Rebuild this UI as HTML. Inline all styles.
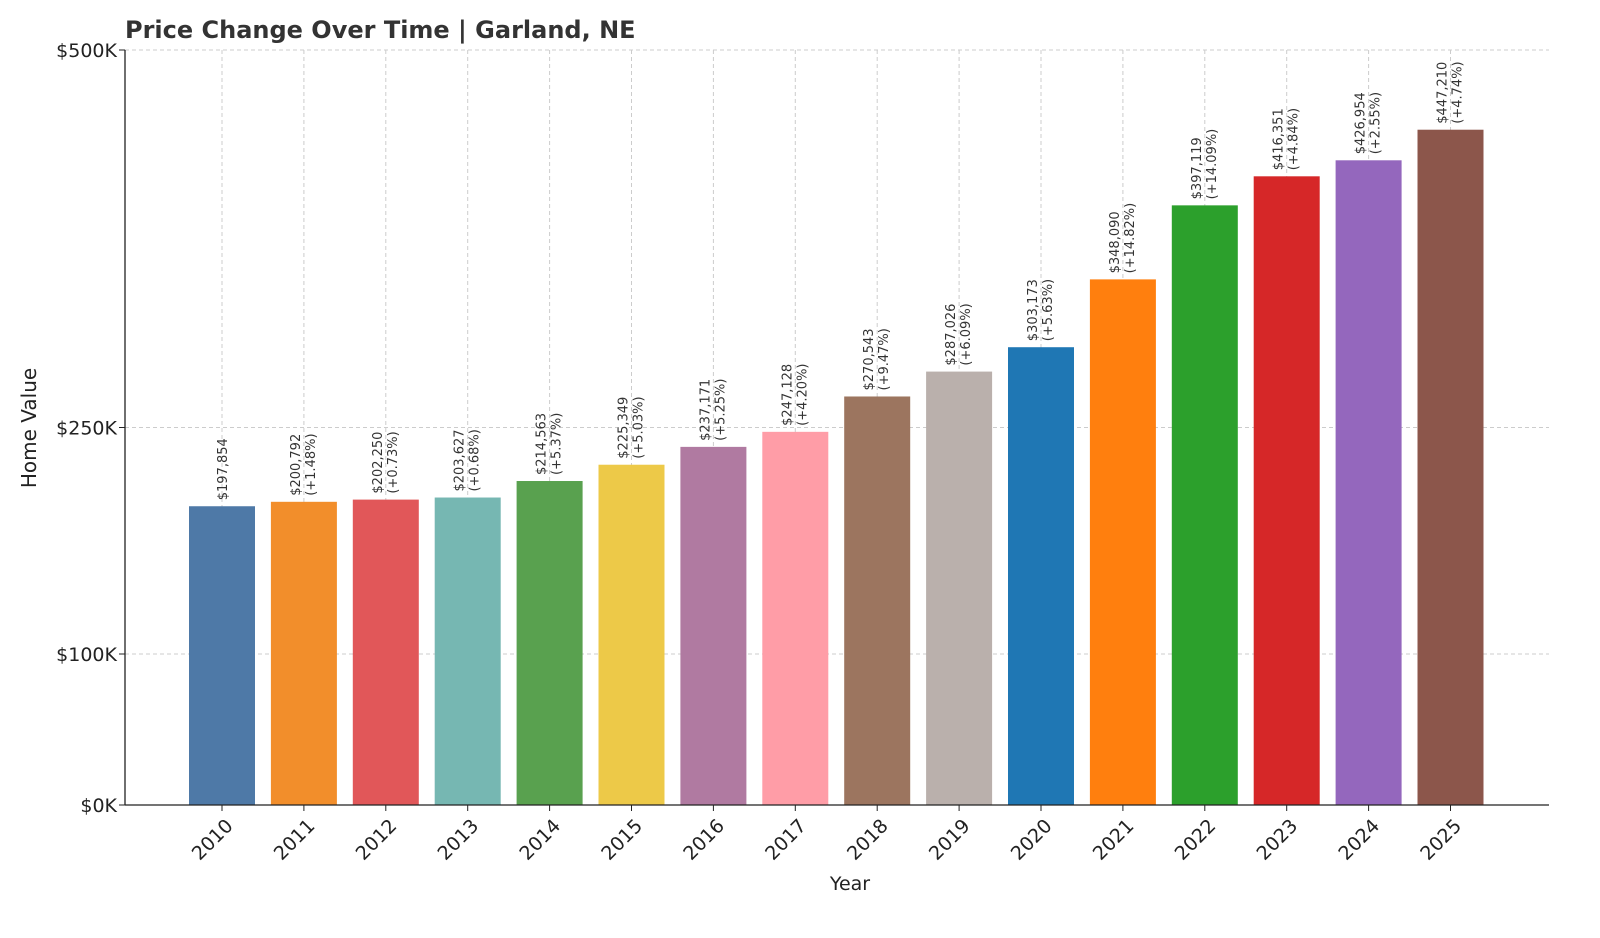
<!DOCTYPE html>
<html><head><meta charset="utf-8"><style>
body{margin:0;background:#fff;font-family:"Liberation Sans","DejaVu Sans",sans-serif;}
</style></head><body>
<svg width="1600" height="933" xmlns="http://www.w3.org/2000/svg" font-family="DejaVu Sans, Liberation Sans, sans-serif">
<text x="125" y="38" font-size="24" font-weight="bold" fill="#333">Price Change Over Time | Garland, NE</text>
<g id="grid"></g><g id="bars"></g><g id="labels"></g><g id="axes"></g>
<text x="850" y="890" font-size="19" text-anchor="middle" fill="#222">Year</text>
<text transform="translate(36,428) rotate(-90)" font-size="20" text-anchor="middle" fill="#222">Home Value</text>
</svg>
<script>
const years=["2010","2011","2012","2013","2014","2015","2016","2017","2018","2019","2020","2021","2022","2023","2024","2025"];
const values=[197854,200792,202250,203627,214563,225349,237171,247128,270543,287026,303173,348090,397119,416351,426954,447210];
const pcts=["","+1.48%","+0.73%","+0.68%","+5.37%","+5.03%","+5.25%","+4.20%","+9.47%","+6.09%","+5.63%","+14.82%","+14.09%","+4.84%","+2.55%","+4.74%"];
const colors=["#4e79a7","#f28e2b","#e15759","#76b7b2","#59a14f","#edc948","#b07aa1","#ff9da7","#9c755f","#bab0ac","#1f77b4","#ff7f0e","#2ca02c","#d62728","#9467bd","#8c564b"];
const yTicks=[0,100000,250000,500000];
const yTickLabels=["$0K","$100K","$250K","$500K"];
const NS="http://www.w3.org/2000/svg";
const L=125,R=1549,T=50,B=805;
const y=v=>B-(v/500000)*(B-T);
const x=i=>222+i*81.9;
const bw=66;
function mk(tag,attrs,parent){const e=document.createElementNS(NS,tag);for(const k in attrs)e.setAttribute(k,attrs[k]);document.getElementById(parent).appendChild(e);return e;}
yTicks.forEach((t,i)=>{
 const g=mk('line',{x1:L,x2:R,y1:y(t),y2:y(t),stroke:"#ccc","stroke-dasharray":"4,3"},'grid');
 
 
 const tk=mk('line',{x1:L-6,x2:L,y1:y(t),y2:y(t),stroke:"#222"},'axes');
 
 
 const tl=mk('text',{x:L-8,y:y(t)+7,"font-size":19,"text-anchor":"end",fill:"#222"},'axes');
 tl.textContent=yTickLabels[i];
 
 
});
years.forEach((yr,i)=>{
 const cx=x(i);
 const g=mk('line',{x1:cx,x2:cx,y1:T,y2:B,stroke:"#ccc","stroke-dasharray":"4,3"},'grid');
 
 
 const r=mk('rect',{x:cx-bw/2,y:y(values[i]),width:bw,height:B-y(values[i]),fill:colors[i]},'bars');
 
 
 const top=y(values[i])-6;
 const vx=pcts[i]?cx-4:cx+5;
 const vt=mk('text',{transform:`translate(${vx},${top}) rotate(-90)`,"font-size":13,fill:"#333"},'labels');
 vt.textContent="$"+values[i].toLocaleString("en-US");
 
 
 if(pcts[i]){
  const pt=mk('text',{transform:`translate(${cx+11},${top}) rotate(-90)`,"font-size":13,fill:"#333"},'labels');
  pt.textContent="("+pcts[i]+")";
  
  
 }
 const tk=mk('line',{x1:cx,x2:cx,y1:B,y2:B+6,stroke:"#222"},'axes');
 
 
 const tl=mk('text',{transform:`translate(${cx+12},${B+22}) rotate(-45)`,"font-size":19,"text-anchor":"end",fill:"#222"},'axes');
 tl.textContent=yr;
 
 
});
const ax1=mk('line',{x1:L,x2:L,y1:T,y2:B,stroke:"#222","stroke-width":1.3},'axes');


const ax2=mk('line',{x1:L,x2:R,y1:B,y2:B,stroke:"#222","stroke-width":1.3},'axes');


</script>
</body></html>
